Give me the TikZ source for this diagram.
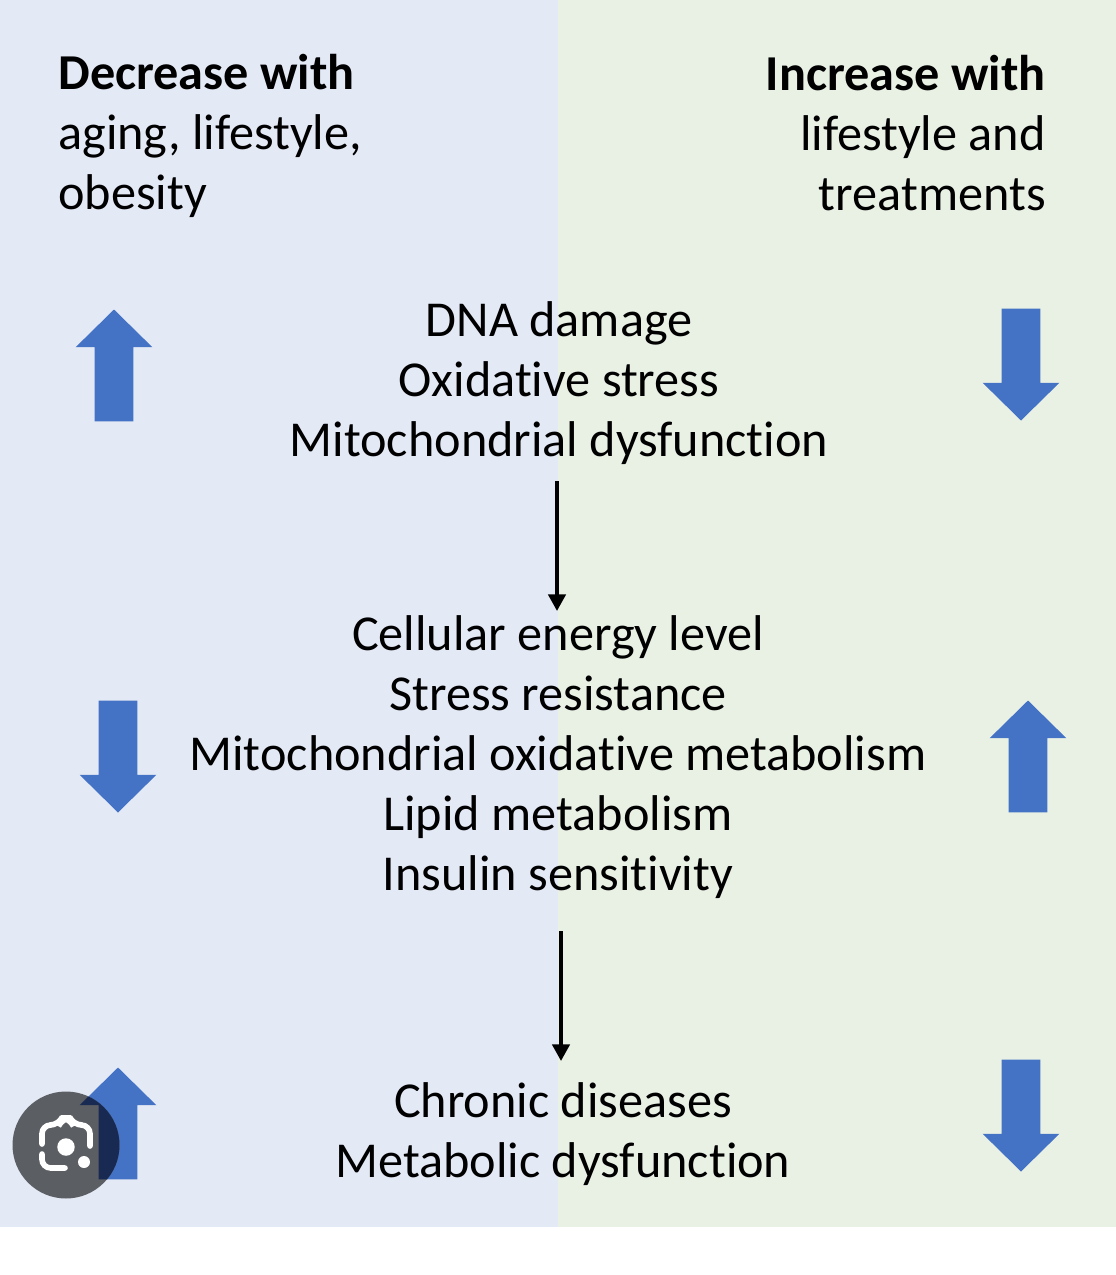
\documentclass[tikz,border=0pt]{standalone}
\usepackage{fontspec}
\setmainfont[Ligatures=CommonOff]{Carlito}
\usetikzlibrary{arrows.meta,shapes.arrows}
\definecolor{leftbg}{RGB}{228,233,246}
\definecolor{rightbg}{RGB}{233,241,229}
\definecolor{arrowblue}{RGB}{68,114,196}
\definecolor{lensgray}{RGB}{91,94,99}
\definecolor{lensnavy}{RGB}{24,41,82}
\tikzset{
  label text/.style={font=\fontsize{28.6}{34.2}\selectfont,text=black,inner sep=0pt,align=center},
  fat up/.style={draw=none,fill=arrowblue,single arrow,single arrow head extend=0.38cm,single arrow tip angle=91,minimum height=2.24cm,inner sep=0.38cm,shape border rotate=90},
  fat down/.style={fat up,shape border rotate=270},
  flow/.style={-{Triangle[length=9.5pt,width=9.8pt]},line width=2.2pt,black},
  lens line/.style={white,line width=3.2pt,rounded corners=5pt,line cap=round}
}
\begin{document}
\begin{tikzpicture}[x=0.02cm,y=-0.02cm]
  \useasboundingbox (0,0) rectangle (1116,1275);
  \fill[white] (0,0) rectangle (1116,1275);
  \fill[leftbg] (0,0) rectangle (558,1227);
  \fill[rightbg] (558,0) rectangle (1116,1227);
  % headings
  \node[label text,align=left,anchor=west] (decrease) at (58,136)
    {\textbf{Decrease with}\\aging, lifestyle,\\obesity};
  \node[label text,align=right,anchor=east] (increase) at (1046,133)
    {\textbf{Increase with}\\lifestyle and\\treatments};
  % middle column
  \node[label text] (damage) at (559,383) {DNA damage\\Oxidative stress\\Mitochondrial dysfunction};
  \node[label text] (energy) at (558,757) {Cellular energy level\\Stress resistance\\Mitochondrial oxidative metabolism\\Lipid metabolism\\Insulin sensitivity};
  \node[label text] (chronic) at (563,1134) {Chronic diseases\\Metabolic dysfunction};
  \coordinate (flowa) at (557,481);
  \coordinate (flowb) at (557,611);
  \coordinate (flowc) at (561,931);
  \coordinate (flowd) at (561,1061);
  \draw[flow] (flowa) -- (flowb);
  \draw[flow] (flowc) -- (flowd);
  % block arrows
  \node[fat up] (upa) at (114,375) {};
  \node[fat down] (downa) at (1021,355) {};
  \node[fat down] (downb) at (118,747) {};
  \node[fat up] (upb) at (1028,766) {};
  \node[fat up] (upc) at (118,1133) {};
  \node[fat down] (downc) at (1021,1106) {};
  % lens badge
  \node[circle,fill=lensgray,minimum size=2.14cm,inner sep=0pt] (lens) at (66,1145) {};
  \begin{scope}
    \clip (66,1145) circle (1.07cm);
    \node[fat up,fill=lensnavy] (upshade) at (118,1133) {};
  \end{scope}
  \draw[lens line] (42,1144) -- (42,1125) -- (59,1125) -- (62,1118) -- (70,1118) -- (73,1125) -- (90,1125) -- (90,1146);
  \draw[lens line] (42,1154) -- (42,1168) -- (65,1168);
  \node[circle,fill=white,minimum size=0.35cm,inner sep=0pt] (lensdot) at (66,1147) {};
  \node[circle,fill=white,minimum size=0.24cm,inner sep=0pt] (lensspot) at (84,1162) {};
\end{tikzpicture}
\end{document}
